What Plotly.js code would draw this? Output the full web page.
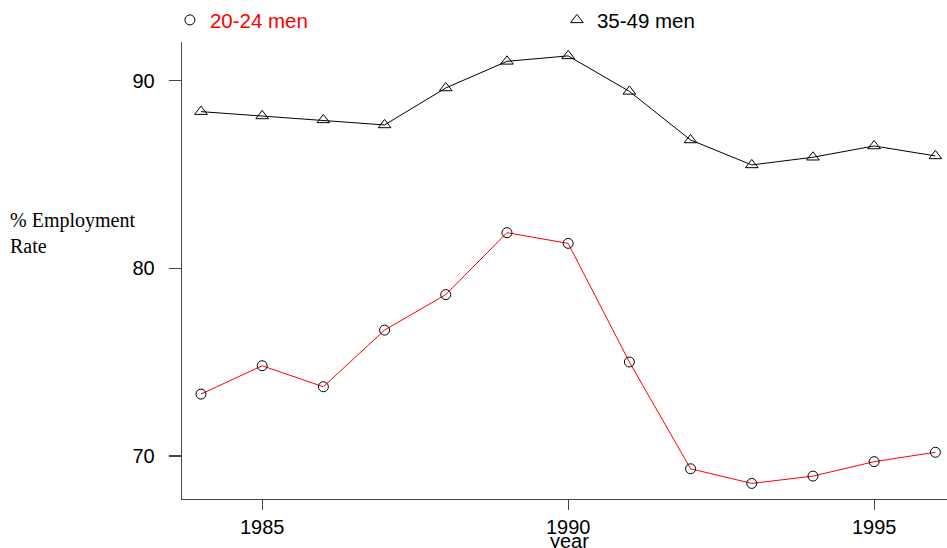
<!DOCTYPE html>
<html>
<head>
<meta charset="utf-8">
<script src="https://cdn.plot.ly/plotly-3.0.1.min.js"></script>
<style>html,body{margin:0;padding:0;background:#fff;}#chart{width:947px;height:548px;}</style>
</head>
<body>
<div id="chart"></div>
<script>
const years = [1984,1985,1986,1987,1988,1989,1990,1991,1992,1993,1994,1995,1996];
const men2024 = [73.30,74.81,73.69,76.71,78.60,81.90,81.33,75.01,69.32,68.54,68.93,69.70,70.20];
const men3549 = [88.35,88.12,87.91,87.64,89.61,91.03,91.32,89.43,86.84,85.51,85.92,86.52,85.99];
const xTicks = [1985,1990,1995];
const yTicks = [70,80,90];
const names = ['20-24 men','35-49 men'];

const traces = [
  {x: years, y: men2024, mode: 'lines', line: {color: '#ff0000', width: 1}, showlegend: false, hoverinfo: 'skip'},
  {x: years, y: men3549, mode: 'lines', line: {color: '#000000', width: 1}, showlegend: false, hoverinfo: 'skip'},
  {x: years, y: men2024, mode: 'markers', name: '<span style="color:#ff0000">' + names[0] + '</span>',
   marker: {symbol: 'circle-open', size: 10, color: '#000', line: {width: 1, color: '#000'}}},
  {x: years, y: men3549, mode: 'markers', name: names[1],
   marker: {symbol: 'triangle-up-open', size: 11, color: '#000', line: {width: 1, color: '#000'}}}
];

const layout = {
  width: 947, height: 548,
  margin: {l: 182, r: 0, t: 42, b: 49},
  paper_bgcolor: '#fff', plot_bgcolor: '#fff',
  font: {family: 'Liberation Sans, Arial, sans-serif', size: 20, color: '#000'},
  showlegend: true,
  legend: {orientation: 'h', x: -0.0158, xanchor: 'left', y: 1.048, yanchor: 'middle',
           entrywidth: 342, entrywidthmode: 'pixels', font: {size: 20.5, color: '#000'},
           bgcolor: 'rgba(0,0,0,0)', traceorder: 'normal'},
  xaxis: {range: [1983.69, 1996.19], tickvals: xTicks, ticktext: xTicks.map(String),
          showgrid: false, zeroline: false, showline: true, linecolor: '#444', linewidth: 1.3,
          ticks: 'outside', ticklen: 10, tickcolor: '#444', tickwidth: 1.3,
          tickfont: {size: 20}, fixedrange: true},
  yaxis: {range: [67.71, 92.06], tickvals: yTicks, ticktext: yTicks.map(String),
          showgrid: false, zeroline: false, showline: true, linecolor: '#444', linewidth: 1.3,
          ticks: 'outside', ticklen: 12, tickcolor: '#444', tickwidth: 1.3,
          tickfont: {size: 20}, ticklabelstandoff: 10, fixedrange: true},
  annotations: [
    {text: '% Employment<br>Rate', xref: 'paper', yref: 'paper', x: -174/765, y: (499-233)/457,
     xanchor: 'left', yanchor: 'middle', align: 'left', showarrow: false,
     font: {family: 'Liberation Serif, Times New Roman, serif', size: 20, color: '#000'}},
    {text: 'year', xref: 'paper', yref: 'paper', x: (569-182)/765, y: -(541-499)/457,
     xanchor: 'center', yanchor: 'middle', showarrow: false, font: {size: 20, color: '#000'}}
  ]
};

Plotly.newPlot('chart', traces, layout, {displayModeBar: false, staticPlot: true});
</script>
</body>
</html>
